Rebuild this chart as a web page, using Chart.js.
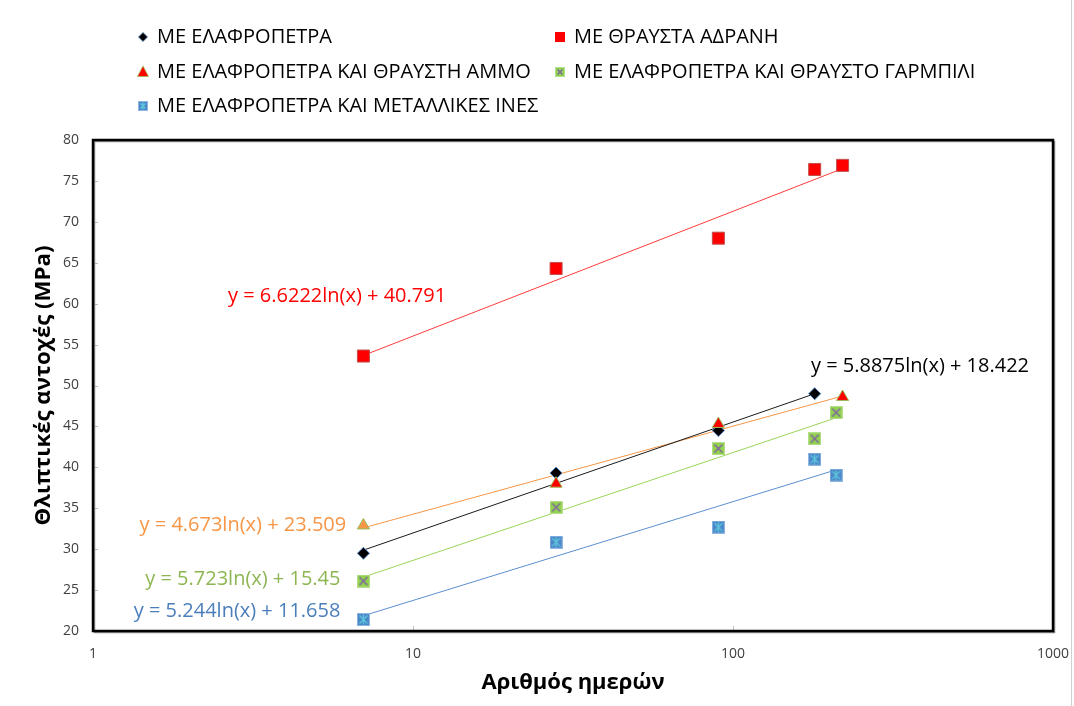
<!DOCTYPE html>
<html>
<head>
<meta charset="utf-8">
<script src="https://cdn.jsdelivr.net/npm/chart.js"></script>
<style>
  body { margin: 0; background: #fff; }
  canvas { display: block; }
</style>
</head>
<body>
<canvas id="chart" width="1074" height="706"></canvas>
<script>
// ηλικία δοκιμίων (ημέρες) ανά σειρά
const daysElafr = [7, 28, 90, 180];
const daysThraysta = [7, 28, 90, 180, 220];
const daysAmmos = [7, 28, 90, 220];
const daysGarmpili = [7, 28, 90, 180, 210];
const daysInes = [7, 28, 90, 180, 210];

// θλιπτικές αντοχές (MPa)
const fcElafr = [29.5, 39.3, 44.5, 49.0];
const fcThraysta = [53.6, 64.3, 68.0, 76.4, 76.9];
const fcAmmos = [32.9, 38.0, 45.3, 48.6];
const fcGarmpili = [26.1, 35.1, 42.3, 43.5, 46.7];
const fcInes = [21.4, 30.85, 32.7, 41.0, 39.05];

// λογαριθμικές γραμμές τάσης y = a ln(x) + b
const trendA = [5.8875, 6.6222, 4.673, 5.723, 5.244];
const trendB = [18.422, 40.791, 23.509, 15.45, 11.658];

const seriesNames = [
  "ΜΕ ΕΛΑΦΡΟΠΕΤΡΑ",
  "ΜΕ ΘΡΑΥΣΤΑ ΑΔΡΑΝΗ",
  "ΜΕ ΕΛΑΦΡΟΠΕΤΡΑ ΚΑΙ ΘΡΑΥΣΤΗ ΑΜΜΟ",
  "ΜΕ ΕΛΑΦΡΟΠΕΤΡΑ ΚΑΙ ΘΡΑΥΣΤΟ ΓΑΡΜΠΙΛΙ",
  "ΜΕ ΕΛΑΦΡΟΠΕΤΡΑ ΚΑΙ ΜΕΤΑΛΛΙΚΕΣ ΙΝΕΣ",
];

const xTicks = [1, 10, 100, 1000];
const yMin = 20, yMax = 80, yStep = 5;
const yTitle = "Θλιπτικές αντοχές (MPa)";

const allDays = [daysElafr, daysThraysta, daysAmmos, daysGarmpili, daysInes];

const lineColors = ["#1a1a1a", "#ff3b3b", "#f79646", "#9bd35a", "#5b8fd0"];
const eqColors = ["#000000", "#ff0000", "#f79646", "#8db653", "#4a7ebb"];
// θέσεις εξισώσεων (σε τιμές αξόνων, κέντρο κειμένου)
const eqPos = [
  { x: 384, y: 52.4 },
  { x: 5.79, y: 60.9 },
  { x: 2.94, y: 32.9 },
  { x: 2.94, y: 26.3 },
  { x: 2.82, y: 22.4 },
];

function boxMarker(size, fill, edge, mark, star) {
  const c = document.createElement("canvas");
  c.width = c.height = size;
  const g = c.getContext("2d");
  g.fillStyle = fill;
  g.fillRect(0, 0, size, size);
  g.strokeStyle = edge;
  g.lineWidth = 1;
  g.strokeRect(0.5, 0.5, size - 1, size - 1);
  g.strokeStyle = mark;
  g.lineWidth = 1.4;
  const a = 2.5, b = size - 2.5, m = size / 2;
  g.beginPath();
  g.moveTo(a, a); g.lineTo(b, b);
  g.moveTo(b, a); g.lineTo(a, b);
  if (star) { g.moveTo(m, 1.5); g.lineTo(m, size - 1.5); }
  g.stroke();
  return c;
}

const greenMark = boxMarker(13, "#92d050", "#b5de8a", "#8064a2", false);
const blueMark = boxMarker(13, "#4a86c8", "#8fb6e0", "#5ec4dc", true);
const greenSmall = boxMarker(10, "#92d050", "#b5de8a", "#8064a2", false);
const blueSmall = boxMarker(10, "#4a86c8", "#8fb6e0", "#5ec4dc", true);

const pts = (xs, ys) => xs.map((x, i) => ({ x: x, y: ys[i] }));

// γραμμή τάσης από την πρώτη έως την τελευταία ηλικία της σειράς
function trend(i) {
  const xs = allDays[i];
  const ends = [xs[0], xs[xs.length - 1]];
  return ends.map(x => ({ x: x, y: trendA[i] * Math.log(x) + trendB[i] }));
}

const trendSets = [0, 1, 2, 3, 4].map(i => ({
  label: "trend" + i,
  data: trend(i),
  showLine: true,
  borderColor: lineColors[i],
  borderWidth: 1,
  pointRadius: 0,
  order: 10,
}));

const markerSets = [
  {
    label: seriesNames[0],
    data: pts(daysElafr, fcElafr),
    pointStyle: "rectRot",
    pointRadius: 6,
    backgroundColor: "#000000",
    borderColor: "#4a7ebb",
    borderWidth: 1,
    order: 4,
  },
  {
    label: seriesNames[1],
    data: pts(daysThraysta, fcThraysta),
    pointStyle: "rect",
    pointRadius: 8.5,
    backgroundColor: "#ff0000",
    borderColor: "#c0504d",
    borderWidth: 1,
    order: 3,
  },
  {
    label: seriesNames[2],
    data: pts(daysAmmos, fcAmmos),
    pointStyle: "triangle",
    pointRadius: 7,
    backgroundColor: ["#f79646", "#ff0000", "#ff0000", "#ff0000"],
    borderColor: "#9bbb59",
    borderWidth: 1,
    order: 2,
  },
  {
    label: seriesNames[3],
    data: pts(daysGarmpili, fcGarmpili),
    pointStyle: greenMark,
    pointRadius: 7,
    order: 1,
  },
  {
    label: seriesNames[4],
    data: pts(daysInes, fcInes),
    pointStyle: blueMark,
    pointRadius: 7,
    order: 0,
  },
];

const textFont = "'Open Sans', 'Liberation Sans', sans-serif";

function legendMark(ctx, i, x, y) {
  ctx.save();
  if (i === 0) {
    ctx.fillStyle = "#000";
    ctx.beginPath();
    ctx.moveTo(x, y - 4.5); ctx.lineTo(x + 4.5, y); ctx.lineTo(x, y + 4.5); ctx.lineTo(x - 4.5, y);
    ctx.closePath();
    ctx.fill();
    ctx.strokeStyle = "#4a7ebb";
    ctx.lineWidth = 0.8;
    ctx.stroke();
  } else if (i === 1) {
    ctx.fillStyle = "#ff0000";
    ctx.fillRect(x - 5, y - 5, 10, 10);
  } else if (i === 2) {
    ctx.fillStyle = "#ff0000";
    ctx.strokeStyle = "#9bbb59";
    ctx.lineWidth = 0.8;
    ctx.beginPath();
    ctx.moveTo(x, y - 6); ctx.lineTo(x + 5.5, y + 4.5); ctx.lineTo(x - 5.5, y + 4.5);
    ctx.closePath();
    ctx.fill();
    ctx.stroke();
  } else {
    ctx.drawImage(i === 3 ? greenSmall : blueSmall, x - 5, y - 5);
  }
  ctx.restore();
}

const decor = {
  id: "decor",
  beforeDatasetsDraw(chart) {
    const { ctx, chartArea: a, scales } = chart;
    ctx.save();
    ctx.strokeStyle = "#bfbfbf";
    ctx.lineWidth = 1;
    ctx.beginPath();
    for (let v = yMin; v <= yMax; v += yStep) {
      const py = Math.round(scales.y.getPixelForValue(v)) + 0.5;
      ctx.moveTo(a.left, py); ctx.lineTo(a.left + 5, py);
    }
    xTicks.slice(1, -1).forEach(v => {
      const px = Math.round(scales.x.getPixelForValue(v)) + 0.5;
      ctx.moveTo(px, a.bottom); ctx.lineTo(px, a.bottom - 5);
    });
    ctx.stroke();
    ctx.restore();
  },
  afterDraw(chart) {
    const { ctx, chartArea: a, scales } = chart;
    ctx.save();
    // πλαίσιο περιοχής σχεδίασης
    ctx.strokeStyle = "#8c8c8c";
    ctx.lineWidth = 1.5;
    ctx.strokeRect(a.left + 1.5, a.top + 1.5, a.right - a.left, a.bottom - a.top);
    ctx.strokeStyle = "#000";
    ctx.lineWidth = 2.5;
    ctx.strokeRect(a.left, a.top, a.right - a.left, a.bottom - a.top);

    // τίτλος κατακόρυφου άξονα, στενότερη γραφή
    ctx.save();
    ctx.font = "bold 22px " + textFont;
    ctx.fillStyle = "#000";
    ctx.textAlign = "center";
    ctx.textBaseline = "middle";
    ctx.translate(44, (a.top + a.bottom) / 2);
    ctx.rotate(-Math.PI / 2);
    const w = ctx.measureText(yTitle).width;
    ctx.scale(280 / w, 1);
    ctx.fillText(yTitle, 0, 0);
    ctx.restore();

    // εξισώσεις γραμμών τάσης
    ctx.font = "20px " + textFont;
    ctx.textAlign = "center";
    ctx.textBaseline = "middle";
    eqPos.forEach((p, i) => {
      ctx.fillStyle = eqColors[i];
      ctx.fillText("y = " + trendA[i] + "ln(x) + " + trendB[i],
        scales.x.getPixelForValue(p.x), scales.y.getPixelForValue(p.y));
    });

    // υπόμνημα
    const cols = [143, 560];
    const rows = [37, 72, 106];
    ctx.font = "20px " + textFont;
    ctx.textAlign = "left";
    seriesNames.forEach((name, i) => {
      const x = cols[i % 2], y = rows[Math.floor(i / 2)];
      legendMark(ctx, i, x, y);
      ctx.fillStyle = "#000";
      ctx.fillText(name, x + 14, y);
    });

    ctx.strokeStyle = "#d0d0d0";
    ctx.lineWidth = 1;
    ctx.beginPath();
    ctx.moveTo(1071.5, 0); ctx.lineTo(1071.5, 706);
    ctx.stroke();
    ctx.restore();
  },
};

new Chart(document.getElementById("chart"), {
  type: "scatter",
  data: { datasets: markerSets.concat(trendSets) },
  options: {
    responsive: false,
    animation: false,
    events: [],
    layout: { padding: { top: 140, right: 21, left: 0, bottom: 0 } },
    plugins: {
      legend: { display: false },
      tooltip: { enabled: false },
    },
    scales: {
      x: {
        type: "logarithmic",
        min: 1,
        max: 1000,
        afterBuildTicks: s => { s.ticks = xTicks.map(v => ({ value: v })); },
        afterFit: s => { s.height = 75; s.paddingLeft = 0; s.paddingRight = 0; },
        grid: { display: false },
        border: { display: false },
        ticks: {
          callback: v => String(v),
          autoSkip: false,
          maxRotation: 0,
          padding: 7,
          color: "#404040",
          font: { family: textFont, size: 14 },
        },
        title: {
          display: true,
          text: "Αριθμός ημερών",
          color: "#000",
          font: { family: textFont, size: 22, weight: "bold" },
          padding: { top: 0, bottom: 10 },
        },
      },
      y: {
        min: yMin,
        max: yMax,
        afterFit: s => { s.width = 93; },
        grid: { display: false },
        border: { display: false },
        ticks: {
          stepSize: yStep,
          padding: 6,
          color: "#404040",
          font: { family: textFont, size: 14 },
        },
      },
    },
  },
  plugins: [decor],
});
</script>
</body>
</html>
